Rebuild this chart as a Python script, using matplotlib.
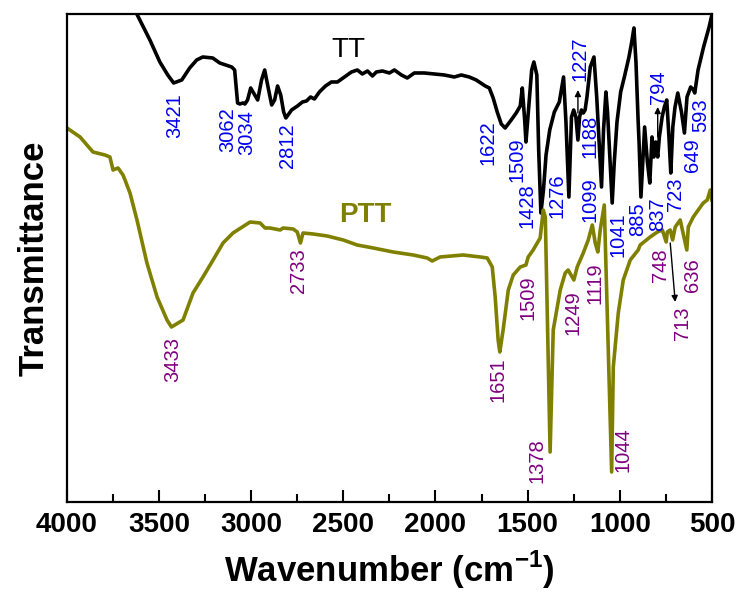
# Import
import matplotlib
matplotlib.use("Agg")
import matplotlib.pyplot as plt
from matplotlib.ticker import MultipleLocator

# TT spectrum (black curve), wavenumber in cm-1, transmittance in arbitrary units
tt_wavenumber = [3650, 3621, 3550, 3496, 3453, 3421, 3377, 3334, 3296, 3263,
                 3209, 3171, 3139, 3106, 3090, 3074, 3062, 3045, 3034, 3020,
                 3003, 2981, 2965, 2944, 2927, 2911, 2889, 2873, 2857, 2840,
                 2824, 2812, 2781, 2749, 2722, 2700, 2678, 2657, 2630, 2597,
                 2565, 2532, 2494, 2456, 2424, 2397, 2369, 2342, 2321, 2288,
                 2250, 2223, 2185, 2153, 2115, 2061, 2007, 1952, 1898, 1860,
                 1817, 1779, 1730, 1708, 1687, 1665, 1643, 1622, 1589, 1562,
                 1540, 1529, 1516, 1509, 1495, 1478, 1466, 1450, 1440, 1428,
                 1414, 1400, 1380, 1355, 1344, 1328, 1305, 1292, 1276, 1262,
                 1250, 1238, 1227, 1218, 1208, 1198, 1188, 1178, 1160, 1140,
                 1125, 1099, 1088, 1075, 1066, 1041, 1030, 1015, 995, 975,
                 950, 935, 923, 912, 900, 895, 885, 875, 865, 850,
                 837, 825, 815, 805, 794, 785, 770, 758, 745, 733,
                 723, 712, 700, 685, 665, 649, 635, 615, 600, 593,
                 575, 545, 515, 500]
tt_transmittance = [512, 488, 462, 440, 427, 419, 422, 434, 442, 445,
                    444, 439, 437, 435, 432, 399, 398, 399, 398, 402,
                    414, 407, 402, 422, 432, 417, 397, 402, 416, 407,
                    390, 384, 392, 396, 400, 401, 405, 403, 410, 416,
                    420, 420, 425, 430, 432, 428, 431, 426, 430, 431,
                    429, 432, 427, 424, 429, 429, 428, 427, 425, 427,
                    425, 422, 416, 414, 404, 390, 378, 374, 382, 389,
                    396, 414, 382, 360, 392, 432, 440, 427, 352, 289,
                    312, 347, 372, 390, 394, 400, 425, 380, 305, 385,
                    392, 385, 362, 385, 392, 389, 392, 405, 435, 445,
                    405, 315, 372, 410, 389, 299, 339, 380, 410, 425,
                    445, 460, 474, 440, 380, 359, 305, 340, 375, 340,
                    319, 365, 345, 360, 345, 365, 385, 395, 402, 365,
                    329, 375, 395, 409, 390, 369, 405, 415, 412, 409,
                    432, 455, 475, 487]

# PTT spectrum (olive curve)
ptt_wavenumber = [4000, 3929, 3859, 3794, 3767, 3750, 3723, 3696, 3685, 3658,
                  3620, 3566, 3511, 3457, 3433, 3370, 3316, 3262, 3207, 3153,
                  3099, 3006, 2952, 2925, 2898, 2843, 2827, 2773, 2750, 2733,
                  2719, 2664, 2588, 2501, 2425, 2338, 2230, 2121, 2045, 2018,
                  1975, 1850, 1757, 1719, 1692, 1676, 1660, 1651, 1633, 1605,
                  1578, 1540, 1509, 1497, 1470, 1432, 1415, 1404, 1378, 1361,
                  1323, 1296, 1280, 1249, 1231, 1198, 1171, 1149, 1133, 1119,
                  1106, 1084, 1044, 1035, 1008, 981, 943, 900, 889, 835,
                  796, 769, 748, 742, 726, 713, 699, 672, 636, 628,
                  601, 574, 547, 525, 509, 500]
ptt_transmittance = [374, 365, 350, 347, 345, 332, 334, 327, 322, 309,
                     282, 239, 205, 182, 175, 182, 209, 225, 242, 259,
                     269, 280, 279, 274, 274, 272, 274, 273, 270, 259,
                     269, 268, 266, 262, 257, 254, 250, 247, 244, 241,
                     245, 247, 245, 244, 235, 205, 162, 150, 172, 212,
                     227, 235, 237, 245, 252, 264, 292, 285, 50, 172,
                     212, 229, 232, 222, 235, 249, 262, 277, 259, 250,
                     272, 297, 30, 135, 189, 222, 242, 252, 257, 265,
                     270, 272, 260, 270, 272, 262, 275, 282, 252, 275,
                     285, 292, 299, 302, 312, 302]

# Peak labels for TT (blue) - text, x position, top of text
tt_peaks = ["3421", "3062", "3034", "2812", "1622", "1509", "1428", "1276",
            "1227", "1188", "1099", "1041", "885", "837", "723", "794",
            "649", "593"]
tt_peak_x = [3414, 3126, 3023, 2805, 1714, 1557, 1502, 1339,
             1214, 1160, 1160, 1008, 905, 796, 699, 791,
             606, 563]
tt_peak_top = [409, 395, 392, 379, 382, 365, 319, 329,
               465, 387, 325, 290, 300, 305, 324, 432,
               364, 404]

# Peak labels for PTT (purple)
ptt_peaks = ["3433", "2733", "1651", "1509", "1378", "1249", "1119", "1044",
             "748", "713", "636"]
ptt_peak_x = [3424, 2746, 1660, 1497, 1448, 1252, 1133, 981,
              780, 661, 606]
ptt_peak_top = [165, 254, 145, 227, 64, 212, 240, 75,
                254, 195, 244]

plt.rcParams["font.family"] = "Liberation Sans"
plt.rcParams["mathtext.fontset"] = "custom"
plt.rcParams["mathtext.rm"] = "Liberation Sans:bold"
plt.rcParams["mathtext.bf"] = "Liberation Sans:bold"

fig = plt.figure(figsize=(7.4, 5.95), dpi=100)
ax = fig.add_axes([0.0905, 0.1563, 0.8715, 0.8202])

ax.plot(tt_wavenumber, tt_transmittance, color="black", lw=2.6, solid_joinstyle="round")
ax.plot(ptt_wavenumber, ptt_transmittance, color="#808000", lw=2.6, solid_joinstyle="round")

for txt, x, y in zip(tt_peaks, tt_peak_x, tt_peak_top):
  ax.text(x, y, txt, rotation=90, ha="center", va="top", fontsize=14.5, color="#0000ee")
for txt, x, y in zip(ptt_peaks, ptt_peak_x, ptt_peak_top):
  ax.text(x, y, txt, rotation=90, ha="center", va="top", fontsize=14.5, color="#800080")

# Little arrows
arrow = dict(arrowstyle="-|>", color="black", lw=1.0, mutation_scale=9, shrinkA=0, shrinkB=0)
ax.annotate("", xy=(1227, 412), xytext=(1227, 389), arrowprops=arrow)
ax.annotate("", xy=(794, 395), xytext=(794, 365), arrowprops=arrow)
ax.annotate("", xy=(699, 200), xytext=(726, 259), arrowprops=arrow)

# Curve names
ax.text(2474, 452, "TT", fontsize=20, ha="center", va="center", color="black")
ax.text(2382, 287, "PTT", fontsize=20, ha="center", va="center", color="#808000", fontweight="bold")

ax.set_xlim(4000, 500)
ax.set_ylim(0, 488)
ax.xaxis.set_major_locator(MultipleLocator(500))
ax.xaxis.set_minor_locator(MultipleLocator(250))
ax.set_yticks([])
ax.tick_params(axis="x", which="major", direction="in", length=8.5, width=1.5, labelsize=20, pad=7)
ax.tick_params(axis="x", which="minor", direction="in", length=5.5, width=1.5)
for label in ax.get_xticklabels():
  label.set_fontweight("bold")
for s in ax.spines.values():
  s.set_linewidth(1.6)

ax.set_xlabel(r"Wavenumber (cm$^{-1}$)", fontsize=25, fontweight="bold", labelpad=8)
ax.set_ylabel("Transmittance", fontsize=25, fontweight="bold", labelpad=12)

plt.savefig("out.png", dpi=100)
